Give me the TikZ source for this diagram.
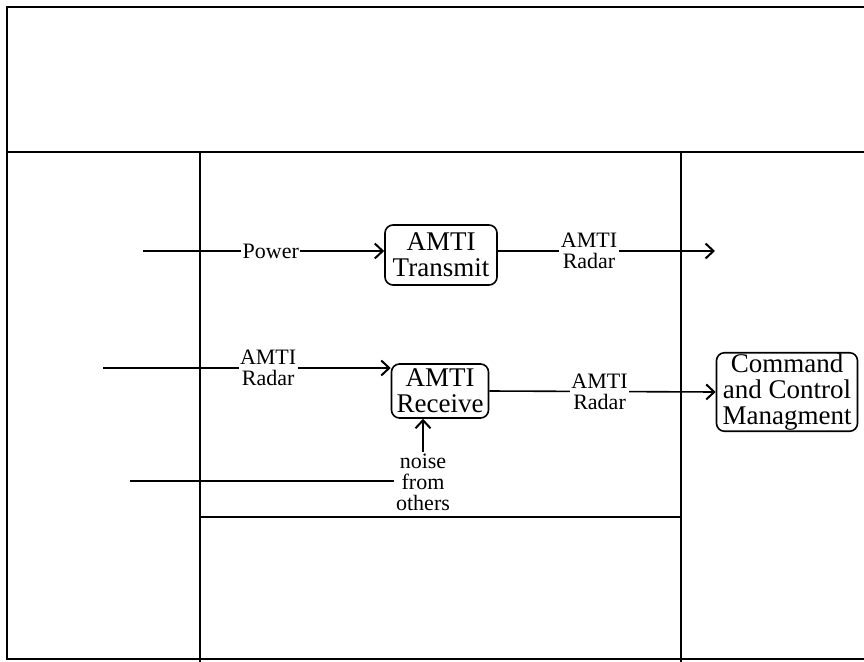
\documentclass[tikz,border=0pt]{standalone}
\usepackage{fontspec}
\setmainfont{Liberation Serif}
\usetikzlibrary{arrows.meta}
\begin{document}
\begin{tikzpicture}[x=1pt,y=-1pt,
  frame/.style={line width=2.2pt},
  conn/.style={line width=1.6pt},
  arr/.style={conn,-{Straight Barb[length=8pt,width=15pt,line width=2pt]}},
  func/.style={draw,line width=1.6pt,rounded corners=8pt,align=center,inner sep=1pt,font=\fontsize{27}{26}\selectfont},
  lbl/.style={fill=white,inner sep=1.5pt,align=center,font=\fontsize{22}{21}\selectfont}]
\useasboundingbox (0,0) rectangle (864,661);
% frame
\draw[frame] (866,7) -- (7,7) -- (7,659) -- (866,659);
\draw[frame] (7,152) -- (866,152);
\draw[frame] (200,152) -- (200,663);
\draw[frame] (681,152) -- (681,663);
\draw[frame] (200,517) -- (681,517);
% functions
\node[func, minimum width=112pt, minimum height=60pt] (tx) at (441,255) {AMTI\\Transmit};
\node[func, minimum width=97pt, minimum height=54pt] (rx) at (440,391) {AMTI\\Receive};
\node[func, minimum width=141pt, minimum height=78pt] (cc) at (787,392) {Command\\and Control\\Managment};
% connectors
\coordinate (p0) at (143,251);
\draw[arr] (p0) -- (p0 -| tx.west) node[lbl,pos=0.53] (lp) {Power};
\coordinate (t1) at (715,251);
\draw[arr] (t1 -| tx.east) -- (t1) node[lbl,pos=0.42] (lt) {AMTI\\Radar};
\coordinate (r0) at (103,368);
\draw[arr] (r0) -- (r0 -| rx.west) node[lbl,pos=0.574] (lr) {AMTI\\Radar};
\draw[arr] (rx.east) -- (cc.west) node[lbl,pos=0.487] (lo) {AMTI\\Radar};
\node[lbl, fill=none] (nz) at (423,482) {noise\\from\\others};
\draw[arr] (nz.north) -- (nz.north |- rx.south);
\coordinate (n0) at (130,481);
\draw[conn] (n0) -- (n0 -| nz.west);
\end{tikzpicture}
\end{document}
